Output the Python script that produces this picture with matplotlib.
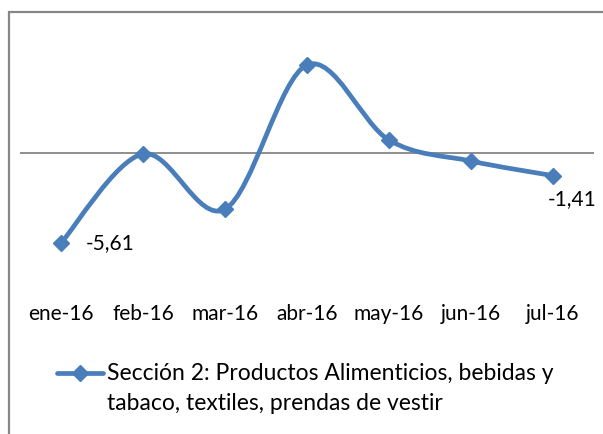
import numpy as np
import matplotlib
matplotlib.use("Agg")
import matplotlib.pyplot as plt
from matplotlib.path import Path
from matplotlib.patches import PathPatch, Rectangle
from matplotlib.lines import Line2D

# data
months = ["ene-16", "feb-16", "mar-16", "abr-16", "may-16", "jun-16", "jul-16"]
values = [-5.61, -0.05, -3.50, 5.49, 0.81, -0.50, -1.41]
series_name = "Sección 2: Productos Alimenticios, bebidas y\ntabaco, textiles, prendas de vestir"

blue = "#4A7EBB"
plt.rcParams['font.family'] = ['Lato', 'DejaVu Sans']

fig = plt.figure(figsize=(6.03, 4.34), dpi=100)
W, H = 603, 434

# outer chart border (only top/left visible in the crop)
fig.add_artist(Rectangle((9 / W, -0.1), 1.2, (H - 12) / H + 0.1, transform=fig.transFigure,
                         fill=False, edgecolor="#878787", linewidth=1.6))

ax = fig.add_axes([20 / W, (H - 300) / H, 574 / W, 270 / H])
ax.set_xlim(-0.5, len(months) - 0.5)
ax.set_ylim(-9.16, 7.67)
ax.axis("off")
ax.axhline(0, color="#868686", linewidth=1.3, zorder=1)

# smoothed line like excel (bezier through the points)
x = np.arange(len(values), dtype=float)
y = np.array(values)
pts = np.column_stack([x, y])
verts = [pts[0]]
codes = [Path.MOVETO]
for i in range(len(pts) - 1):
    p0 = pts[i - 1] if i > 0 else pts[i]
    p1, p2 = pts[i], pts[i + 1]
    p3 = pts[i + 2] if i + 2 < len(pts) else pts[i + 1]
    c1 = p1 + (p2 - p0) / 6.0
    c2 = p2 - (p3 - p1) / 6.0
    verts += [c1, c2, p2]
    codes += [Path.CURVE4] * 3
ax.add_patch(PathPatch(Path(verts, codes), facecolor="none", edgecolor=blue,
                       linewidth=3.4, capstyle="round", zorder=2))
ax.plot(x, y, linestyle="none", marker="D", markersize=8.5, color=blue, zorder=3)

# data labels
ax.annotate("-5,61", (x[0], y[0]), xytext=(18, 0), textcoords="offset points",
            ha="left", va="center", fontsize=15)
ax.annotate("-1,41", (x[-1], y[-1]), xytext=(14, -17), textcoords="offset points",
            ha="center", va="center", fontsize=15)

# category labels
for i, m in enumerate(months):
    ax.text(i, -9.4, m, transform=ax.transData, ha="center", va="top", fontsize=15)

# legend drawn by hand
fig.add_artist(Line2D([57 / W, 103 / W], [(H - 373) / H] * 2, transform=fig.transFigure,
                      color=blue, linewidth=3.4, solid_capstyle="round"))
fig.add_artist(Line2D([80 / W], [(H - 373) / H], transform=fig.transFigure,
                      color=blue, marker="D", markersize=8.5, linestyle="none"))
fig.text(107 / W, (H - 363) / H, series_name, ha="left", va="top", fontsize=16.5,
         linespacing=1.5)

fig.savefig("out.png", dpi=100)
